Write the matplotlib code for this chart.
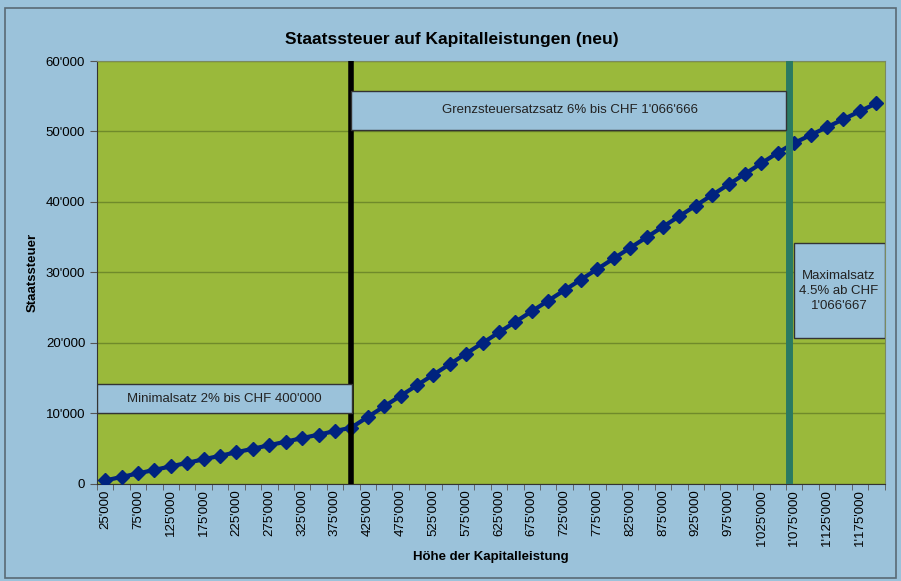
import matplotlib
matplotlib.use("Agg")
import matplotlib.pyplot as plt
from matplotlib.patches import Rectangle
from matplotlib.ticker import FuncFormatter

plt.rcParams['font.family'] = ['Liberation Sans', 'DejaVu Sans']

# Kapitalleistung (CHF) and Staatssteuer (CHF)
betrag = [25000, 50000, 75000, 100000, 125000, 150000, 175000, 200000,
          225000, 250000, 275000, 300000, 325000, 350000, 375000, 400000,
          425000, 450000, 475000, 500000, 525000, 550000, 575000, 600000,
          625000, 650000, 675000, 700000, 725000, 750000, 775000, 800000,
          825000, 850000, 875000, 900000, 925000, 950000, 975000, 1000000,
          1025000, 1050000, 1075000, 1100000, 1125000, 1150000, 1175000, 1200000]
steuer = [500, 1000, 1500, 2000, 2500, 3000, 3500, 4000,
          4500, 5000, 5500, 6000, 6500, 7000, 7500, 8000,
          9500, 11000, 12500, 14000, 15500, 17000, 18500, 20000,
          21500, 23000, 24500, 26000, 27500, 29000, 30500, 32000,
          33500, 35000, 36500, 38000, 39500, 41000, 42500, 44000,
          45500, 47000, 48375, 49500, 50625, 51750, 52875, 54000]


def chf(v, pos=None):
    return f"{int(round(v)):,}".replace(",", "'")


fig = plt.figure(figsize=(9.01, 5.81), dpi=100)
fig.patch.set_facecolor("#9bc2da")
fig.patches.append(Rectangle((0.006, 0.005), 0.989, 0.982, transform=fig.transFigure,
                             fill=False, edgecolor="#5a6a74", linewidth=1.2))

ax = fig.add_axes([0.1077, 0.167, 0.874, 0.728])
ax.set_facecolor("#9ab93b")

x = list(range(len(betrag)))
ax.plot(x, steuer, color="#00237f", linewidth=3, marker="D", markersize=7,
        markerfacecolor="#00237f", markeredgecolor="#00237f", zorder=5)

ax.set_xlim(-0.5, len(betrag) - 0.5)
ax.set_ylim(0, 60000)
ax.set_yticks(range(0, 60001, 10000))
ax.yaxis.set_major_formatter(FuncFormatter(chf))
ax.grid(axis="y", color="#6f8a2a", linewidth=1)
ax.set_axisbelow(True)

ax.set_xticks(x[::2])
ax.set_xticklabels([chf(b) for b in betrag[::2]], rotation=90)
ax.set_xticks([i - 0.5 for i in range(len(betrag) + 1)], minor=True)
ax.tick_params(axis="x", which="major", length=0, labelsize=9.5, pad=4)
ax.tick_params(axis="x", which="minor", length=4, color="#555555")
ax.tick_params(axis="y", length=5, labelsize=9.5, color="#555555")

for s in ["top", "right"]:
    ax.spines[s].set_color("#7a8a60")
ax.spines["left"].set_color("#333333")
ax.spines["bottom"].set_color("#333333")

# Grenzen
i400 = betrag.index(400000)
ax.axvline(i400, color="black", linewidth=4, zorder=6)
i_max = 41 + 16666 / 25000
ax.axvline(i_max, color="#2a7a62", linewidth=5, zorder=6)

# Beschriftungsfelder
box = dict(facecolor="#9bc2da", edgecolor="#333333", linewidth=1)
ax.add_patch(Rectangle((-0.5, 10000), i400 + 0.55, 4200, zorder=7, **box))
ax.text((i400 - 0.5) / 2, 12100, "Minimalsatz 2% bis CHF 400'000", ha="center",
        va="center", fontsize=9.5, color="#222222", zorder=8)
ax.add_patch(Rectangle((i400 - 0.05, 50200), i_max - i400 - 0.1, 5550, zorder=7, **box))
ax.text((i400 + i_max) / 2, 53000, "Grenzsteuersatzsatz 6% bis CHF 1'066'666",
        ha="center", va="center", fontsize=9.5, color="#222222", zorder=8)
ax.add_patch(Rectangle((i_max + 0.3, 20700), len(betrag) - 0.5 - i_max - 0.3, 13500,
                       zorder=7, **box))
ax.text((i_max + 0.3 + len(betrag) - 0.5) / 2, 27400, "Maximalsatz\n4.5% ab CHF\n1'066'667",
        ha="center", va="center", fontsize=9.5, color="#222222", zorder=8, linespacing=1.35)

fig.text(0.502, 0.932, "Staatssteuer auf Kapitalleistungen (neu)", ha="center",
         va="center", fontsize=12.5, fontweight="bold")
ax.set_xlabel("Höhe der Kapitalleistung", fontsize=9.5, fontweight="bold", labelpad=3)
ax.set_ylabel("Staatssteuer", fontsize=9.5, fontweight="bold", labelpad=5)

fig.savefig("out.png", dpi=100, facecolor=fig.get_facecolor())
